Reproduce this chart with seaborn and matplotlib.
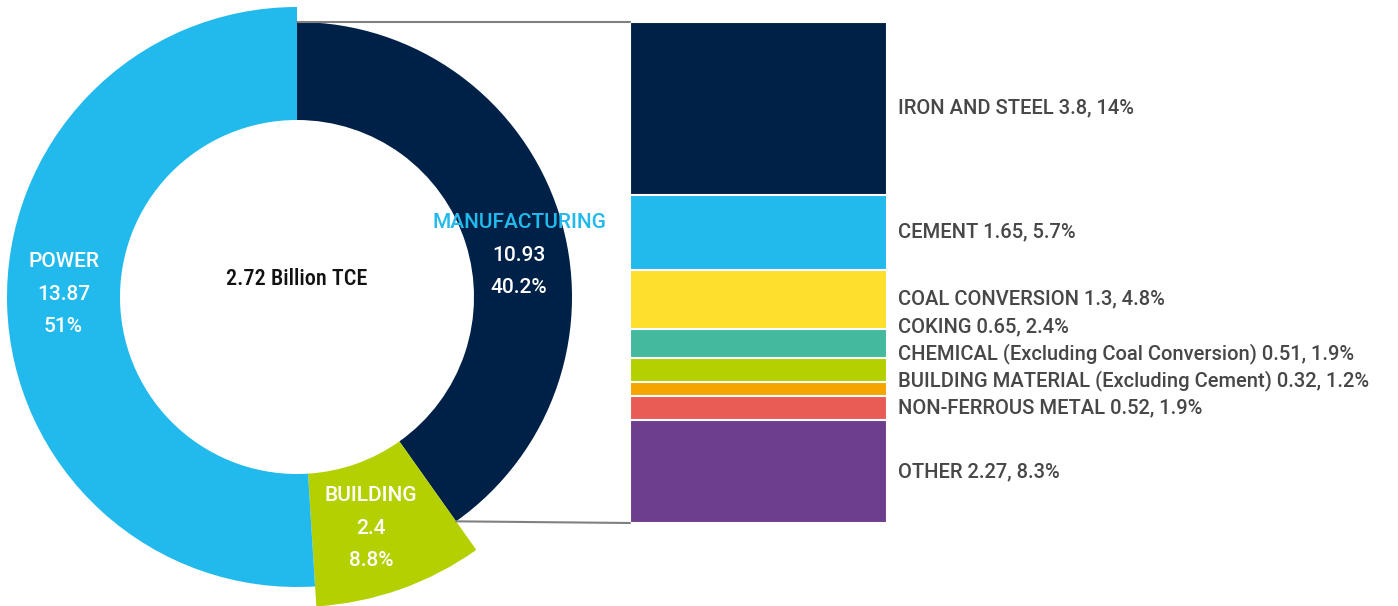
import numpy as np
import matplotlib.pyplot as plt
import seaborn as sns
from matplotlib.patches import Wedge, ConnectionPatch

# Coal use by sector (donut), values in 100 million TCE
sectors = ["MANUFACTURING", "BUILDING", "POWER"]
sector_values = [10.93, 2.4, 13.87]
sector_shares = ["40.2%", "8.8%", "51%"]
sector_colors = ["#002147", "#B5D000", "#22BAEC"]

# Manufacturing breakdown (stacked bar, top to bottom)
industries = ["IRON AND STEEL", "CEMENT", "COAL CONVERSION", "COKING",
              "CHEMICAL (Excluding Coal Conversion)",
              "BUILDING MATERIAL (Excluding Cement)",
              "NON-FERROUS METAL", "OTHER"]
industry_values = [3.8, 1.65, 1.3, 0.65, 0.51, 0.32, 0.52, 2.27]
industry_shares = ["14%", "5.7%", "4.8%", "2.4%", "1.9%", "1.2%", "1.9%", "8.3%"]
industry_colors = ["#002147", "#22BAEC", "#FEDF2B", "#44B99D",
                   "#B5D000", "#F5A500", "#E95C55", "#6E3E8E"]

center_label = "2.72 Billion TCE"

sns.set_theme(style="white")
plt.rcParams["font.family"] = ["Roboto", "DejaVu Sans"]

fig = plt.figure(figsize=(13.98, 6.06), dpi=100)

# ---- donut ----
ax = fig.add_axes([0, 0, 600 / 1398, 1])
ax.set_xlim(-297, 303)
ax.set_ylim(-309, 297)
ax.set_aspect("equal")
ax.axis("off")

inner = 177
outer = [275, 310, 290]          # each sector ring has its own outer radius
label_shift = [-7, -1.7, -2.3]   # degrees

fracs = np.array(sector_values) / np.sum(sector_values)
start = 90.0
corners = []
for i, f in enumerate(fracs):
    t2 = start
    t1 = start - f * 360
    ax.add_patch(Wedge((0, 0), outer[i], t1, t2, width=outer[i] - inner,
                       facecolor=sector_colors[i], edgecolor="none"))
    corners.append((t2, t1))
    mid = np.deg2rad((t1 + t2) / 2 + label_shift[i])
    rr = (inner + outer[i]) / 2
    x, y = rr * np.cos(mid), rr * np.sin(mid)
    name_col = "#22BAEC" if sectors[i] == "MANUFACTURING" else "white"
    kw = dict(fontsize=15, fontweight="medium", ha="center", va="center")
    ax.text(x, y + 33, sectors[i], color=name_col, **kw)
    ax.text(x, y, str(sector_values[i]), color="white", **kw)
    ax.text(x, y - 32, sector_shares[i], color="white", **kw)
    start = t1

ax.text(0, 18, center_label, fontsize=16, fontweight="medium", ha="center", va="center",
        color="#111111", fontstretch="condensed",
        family=["Liberation Sans Narrow", "DejaVu Sans Condensed", "Roboto Condensed", "Roboto"])

# ---- stacked bar ----
bax = fig.add_axes([630 / 1398, 1 - 523 / 606, 257 / 1398, 501 / 606])
cum = np.cumsum(industry_values)
for i in reversed(range(len(industries))):
    sns.barplot(x=[0], y=[cum[i]], color=industry_colors[i], saturation=1, width=1,
                edgecolor="white", linewidth=1.5, ax=bax)
bax.set_xlim(-0.5, 0.5)
bax.set_ylim(cum[-1], 0)
bax.axis("off")

centers = cum - np.array(industry_values) / 2
label_y = centers.copy()
label_y[2:7] = np.linspace(centers[2], centers[6], 5)
for i, name in enumerate(industries):
    bax.annotate(f"{name} {industry_values[i]}, {industry_shares[i]}",
                 xy=(0.5, label_y[i]), xytext=(8, 0), textcoords="offset points",
                 ha="left", va="center", fontsize=14.5, fontweight="medium",
                 color="#474747", annotation_clip=False)

# ---- connector lines from manufacturing wedge to the bar ----
r_m = outer[0]
a_top, a_bot = np.deg2rad(corners[0][0]), np.deg2rad(corners[0][1])
for ang, yb in [(a_top, 0), (a_bot, cum[-1])]:
    con = ConnectionPatch(xyA=(r_m * np.cos(ang), r_m * np.sin(ang)), coordsA=ax.transData,
                          xyB=(-0.5, yb), coordsB=bax.transData,
                          color="#808080", lw=1.5)
    fig.add_artist(con)

fig.savefig("out.png", dpi=100)
